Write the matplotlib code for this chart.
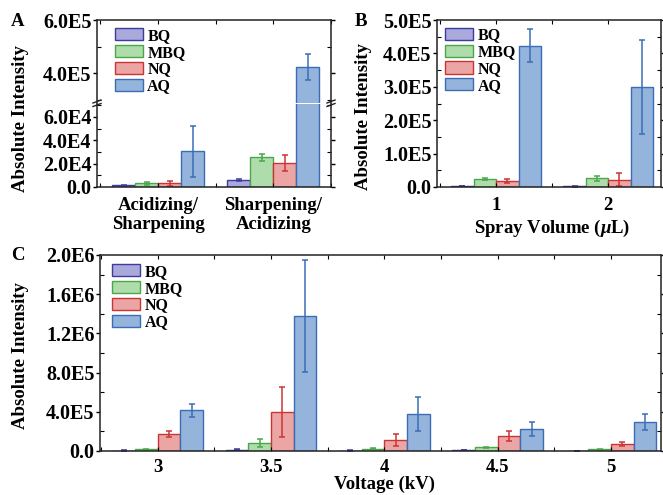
import matplotlib
matplotlib.use("Agg")
import matplotlib.pyplot as plt
import numpy as np
from matplotlib.ticker import MultipleLocator, FuncFormatter
from matplotlib.lines import Line2D

plt.rcParams['font.family'] = ['Liberation Serif', 'DejaVu Serif']
plt.rcParams['font.weight'] = 'bold'
plt.rcParams['axes.labelweight'] = 'bold'
plt.rcParams['mathtext.fontset'] = 'custom'
plt.rcParams['mathtext.rm'] = 'Liberation Serif:bold'
plt.rcParams['mathtext.it'] = 'Liberation Serif:italic:bold'

series = ["BQ", "MBQ", "NQ", "AQ"]
faces = ['#aaa9dc', '#aedcab', '#eca5a5', '#94b4dc']
edges = ['#3c3c9c', '#4aa84a', '#cc3434', '#3a6db5']

# panel A
A_groups = ["Acidizing/\nSharpening", "Sharpening/\nAcidizing"]
A_bq = [1.6e3, 5.8e3]
A_bq_err = [5e2, 1e3]
A_mbq = [3.0e3, 2.53e4]
A_mbq_err = [1e3, 2.8e3]
A_nq = [3.0e3, 2.03e4]
A_nq_err = [1.8e3, 7e3]
A_aq = [3.04e4, 4.23e5]
A_aq_err = [2.2e4, 5e4]

# panel B
B_groups = ["1", "2"]
B_bq = [3e3, 1.5e3]
B_bq_err = [5e2, 5e2]
B_mbq = [2.5e4, 2.6e4]
B_mbq_err = [3e3, 8e3]
B_nq = [1.8e4, 2.2e4]
B_nq_err = [7e3, 2e4]
B_aq = [4.23e5, 3.0e5]
B_aq_err = [4.95e4, 1.41e5]

# panel C
C_groups = ["3", "3.5", "4", "4.5", "5"]
C_bq = [5e3, 1.5e4, 5e3, 1e4, 3e3]
C_bq_err = [2e3, 3e3, 2e3, 2e3, 1e3]
C_mbq = [2e4, 8.2e4, 2.4e4, 3.7e4, 2e4]
C_mbq_err = [5e3, 4e4, 8e3, 8e3, 5e3]
C_nq = [1.7e5, 3.98e5, 1.12e5, 1.53e5, 7.5e4]
C_nq_err = [3e4, 2.6e5, 6.5e4, 5e4, 2e4]
C_aq = [4.15e5, 1.374e6, 3.78e5, 2.28e5, 2.93e5]
C_aq_err = [6.6e4, 5.7e5, 1.7e5, 7.3e4, 8e4]

W, H = 663, 495
fig = plt.figure(figsize=(W / 100, H / 100), dpi=100)


def box(l, t, r, b):
    return [l / W, 1 - b / H, (r - l) / W, (b - t) / H]


def sci(v, pos):
    if abs(v) < 1e-9:
        return "0.0"
    e = int(np.floor(np.log10(abs(v)) + 1e-9))
    return f"{v / 10 ** e:.1f}E{e}"


def draw_bars(ax, vals, errs):
    x = np.arange(len(vals[0]))
    w = 0.2
    for i in range(4):
        ax.bar(x + (i - 1.5) * w, vals[i], w, yerr=errs[i], color=faces[i],
               edgecolor=edges[i], linewidth=1.0, label=series[i],
               error_kw=dict(ecolor=edges[i], elinewidth=1.1, capsize=2, capthick=1.1))
    return x


def style(ax, major, minor, xpad=7):
    ax.yaxis.set_major_locator(MultipleLocator(major))
    ax.yaxis.set_minor_locator(MultipleLocator(minor))
    ax.yaxis.set_major_formatter(FuncFormatter(sci))
    ax.xaxis.set_minor_locator(MultipleLocator(0.5))
    ax.tick_params(axis='y', which='major', direction='out', length=3, width=1,
                   labelsize=14.5, pad=1, right=True)
    ax.tick_params(axis='y', which='minor', direction='in', length=3, width=0.8, right=True)
    ax.tick_params(axis='x', which='both', direction='in', length=3, width=0.8,
                   top=True, labelsize=13.5, pad=xpad)
    for s in ax.spines.values():
        s.set_linewidth(1.1)
        s.set_color('#222222')


def legend(ax, x, y):
    ax.legend(loc='upper left', bbox_to_anchor=(x, y), frameon=False, fontsize=11.5,
              handlelength=1.75, handleheight=0.8, handletextpad=0.3,
              labelspacing=0.05, borderpad=0, borderaxespad=0)


# A: broken axis
A_vals = [A_bq, A_mbq, A_nq, A_aq]
A_errs = [A_bq_err, A_mbq_err, A_nq_err, A_aq_err]
axAt = fig.add_axes(box(97, 20, 331, 102.5))
axAb = fig.add_axes(box(97, 104, 331, 187))
for ax in (axAt, axAb):
    x = draw_bars(ax, A_vals, A_errs)
    ax.set_xlim(-0.53, 1.5)
axAt.set_ylim(2.9e5, 6.0e5)
axAb.set_ylim(0, 7.1e4)
style(axAt, 2e5, 1e5)
style(axAb, 2e4, 1e4)
axAt.spines['bottom'].set_visible(False)
axAb.spines['top'].set_visible(False)
axAt.tick_params(axis='x', which='both', bottom=False, labelbottom=False)
axAb.tick_params(axis='x', which='both', top=False)
axAb.set_xticks(x)
axAb.set_xticklabels(A_groups)
legend(axAt, 0.075, 0.905)

# break marks
for px in (97, 331):
    for py in (101.5, 105):
        fig.add_artist(Line2D([(px - 4) / W, (px + 4) / W],
                              [1 - (py + 1.5) / H, 1 - (py - 1.5) / H],
                              color='#222222', linewidth=1.0))

# B
axB = fig.add_axes(box(437, 20, 661, 187))
x = draw_bars(axB, [B_bq, B_mbq, B_nq, B_aq], [B_bq_err, B_mbq_err, B_nq_err, B_aq_err])
axB.set_xlim(-0.527, 1.47)
axB.set_ylim(0, 5e5)
style(axB, 1e5, 5e4)
axB.set_xticks(x)
axB.set_xticklabels(B_groups)
legend(axB, 0.035, 0.955)

# C
axC = fig.add_axes(box(100, 255, 661, 451))
x = draw_bars(axC, [C_bq, C_mbq, C_nq, C_aq], [C_bq_err, C_mbq_err, C_nq_err, C_aq_err])
axC.set_xlim(-0.51, 4.44)
axC.set_ylim(0, 2e6)
style(axC, 4e5, 2e5, xpad=5.5)
axC.set_xticks(x)
axC.set_xticklabels(C_groups)
legend(axC, 0.022, 0.955)

# labels
fs = 13.5
fig.text(21 / W, 1 - 119 / H, "Absolute Intensity", rotation=90, ha='center', va='center', fontsize=fs)
fig.text(363 / W, 1 - 117 / H, "Absolute Intensity", rotation=90, ha='center', va='center', fontsize=fs)
fig.text(21 / W, 1 - 356 / H, "Absolute Intensity", rotation=90, ha='center', va='center', fontsize=fs)
fig.text(552 / W, 1 - 228 / H, r"Spray Volume ($\mathit{\mu}$L)", ha='center', va='center', fontsize=fs)
fig.text(384 / W, 1 - 489 / H, "Voltage (kV)", ha='center', va='baseline', fontsize=fs)
fig.text(18 / W, 1 - 21 / H, "A", ha='center', va='center', fontsize=fs)
fig.text(361 / W, 1 - 21 / H, "B", ha='center', va='center', fontsize=fs)
fig.text(18 / W, 1 - 256 / H, "C", ha='center', va='center', fontsize=fs)

fig.savefig("out.png", dpi=100)
